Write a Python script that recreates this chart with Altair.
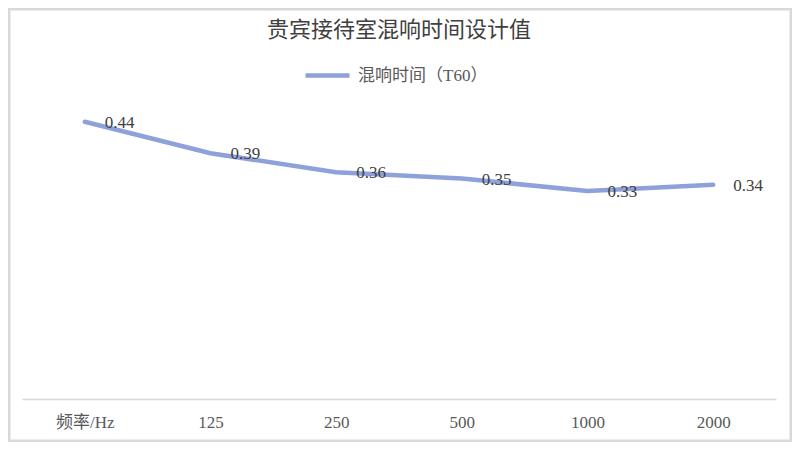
import altair as alt
import pandas as pd

categories = ["频率/Hz", "125", "250", "500", "1000", "2000"]
values = [0.44, 0.39, 0.36, 0.35, 0.33, 0.34]
series_name = "混响时间（T60）"
title_text = "贵宾接待室混响时间设计值"

df = pd.DataFrame({"freq": categories, "t60": values, "series": [series_name] * len(categories)})

FONT = "Liberation Serif, Noto Sans CJK SC"
LINE_COLOR = "#8FA1DA"

x_enc = alt.X(
    "freq:N",
    sort=categories,
    scale=alt.Scale(type="point", padding=0.5),
    axis=alt.Axis(
        title=None, labelAngle=0, ticks=False, tickSize=0, domainColor="#d9d9d9",
        domainWidth=1.5, labelFont=FONT, labelFontSize=17, labelColor="#595959",
        labelPadding=15, grid=False,
    ),
)
y_enc = alt.Y("t60:Q", scale=alt.Scale(domain=[0, 0.5]), axis=None)

line = alt.Chart(df).mark_line(strokeWidth=4.5, strokeCap="round", strokeJoin="round").encode(
    x=x_enc,
    y=y_enc,
    color=alt.Color(
        "series:N",
        scale=alt.Scale(range=[LINE_COLOR]),
        legend=alt.Legend(
            orient="none", legendX=281, legendY=-33, title=None, padding=0,
            symbolType="stroke", symbolSize=1936, symbolStrokeWidth=4.5,
            labelFont=FONT, labelFontSize=17, labelColor="#595959", labelOffset=6,
        ),
    ),
)

labels = alt.Chart(df).mark_text(
    align="left", baseline="middle", dx=20, dy=1, font=FONT, fontSize=17, color="#404040"
).encode(
    x=alt.X("freq:N", sort=categories),
    y="t60:Q",
    text=alt.Text("t60:Q", format=".2f"),
)

border = alt.Chart(pd.DataFrame({"a": [0]})).mark_rect(
    fill="transparent", stroke="#d9d9d9", strokeWidth=2.5
).encode(
    x=alt.value(-12.75), x2=alt.value(768.75), y=alt.value(-74.75), y2=alt.value(356.75)
)

chart = alt.layer(border, line, labels).properties(
    width=754,
    height=315,
    padding={"left": 14, "top": 76, "right": 16, "bottom": 43},
    autosize=alt.AutoSizeParams(type="none"),
    title=alt.TitleParams(
        title_text, font=FONT, fontSize=22, fontWeight="normal", color="#404040",
        anchor="middle", offset=-34,
    ),
).configure_view(stroke=None)

chart.save("out.html", embed_options={"renderer": "svg", "actions": False})
